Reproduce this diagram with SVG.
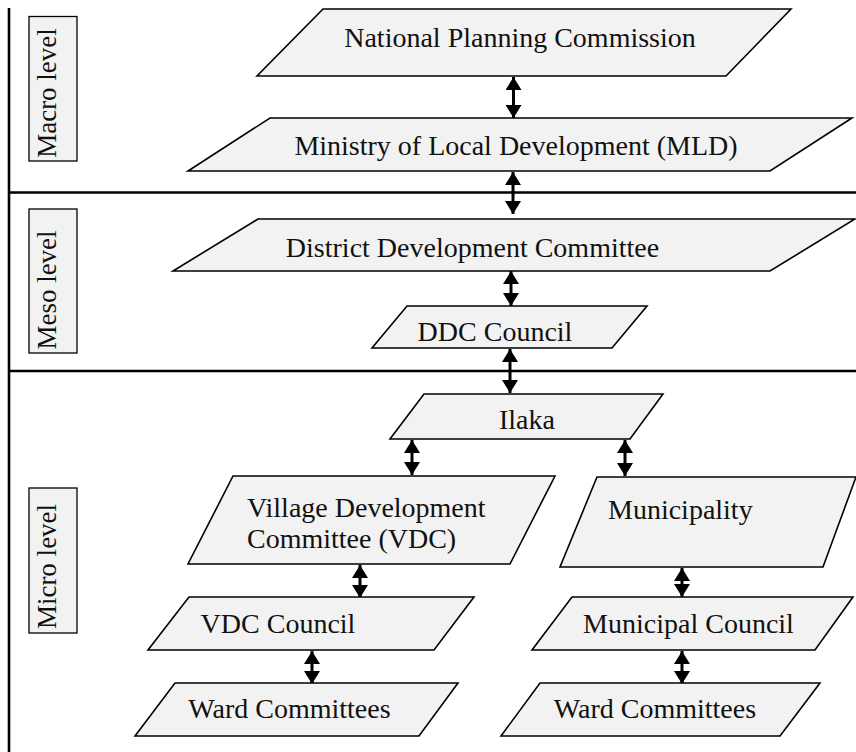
<svg xmlns="http://www.w3.org/2000/svg" width="856" height="752" viewBox="0 0 856 752">
<style>
.node{fill:#f2f2f2;stroke:#000;stroke-width:1.6;stroke-linejoin:miter}
.lbl{fill:#f2f2f2;stroke:#000;stroke-width:1.3}
.t{font-family:"Liberation Serif","Times New Roman",serif;font-size:28px;fill:#111}
.lt{font-family:"Liberation Serif","Times New Roman",serif;font-size:27px;fill:#111}
.sep{stroke:#000;stroke-width:2.6;fill:none}
.arr{stroke:#000;stroke-width:3;fill:none;marker-start:url(#ah);marker-end:url(#ah)}
</style>
<defs>
<marker id="ah" viewBox="0 0 13 16" refX="13" refY="8" markerWidth="13" markerHeight="16" markerUnits="userSpaceOnUse" orient="auto-start-reverse">
<path d="M0,0 L13,8 L0,16 z" fill="#000"/>
</marker>
</defs>
<rect width="856" height="752" fill="#fff"/>
<g id="frame">
<line class="sep" x1="9" y1="8" x2="9" y2="752"/>
<line class="sep" x1="9" y1="192.5" x2="856" y2="192.5"/>
<line class="sep" x1="9" y1="371" x2="856" y2="371"/>
</g>
<g id="label-macro">
<rect class="lbl" x="29" y="16.5" width="48" height="144.5"/>
<text class="lt" transform="translate(55.5,93) rotate(-90)" text-anchor="middle">Macro level</text>
</g>
<g id="label-meso">
<rect class="lbl" x="29" y="209" width="48" height="144"/>
<text class="lt" transform="translate(55.5,290) rotate(-90)" text-anchor="middle">Meso level</text>
</g>
<g id="label-micro">
<rect class="lbl" x="29" y="488" width="48" height="145"/>
<text class="lt" transform="translate(55.5,566.5) rotate(-90)" text-anchor="middle">Micro level</text>
</g>
<g id="connectors">
<line class="arr" x1="513.5" y1="77" x2="513.5" y2="118"/>
<line class="arr" x1="513" y1="172" x2="513" y2="214"/>
<line class="arr" x1="511" y1="271" x2="511" y2="306"/>
<line class="arr" x1="510" y1="349" x2="510" y2="393"/>
<line class="arr" x1="412" y1="440" x2="412" y2="475"/>
<line class="arr" x1="625" y1="440" x2="625" y2="476"/>
<line class="arr" x1="360" y1="565" x2="360" y2="598"/>
<line class="arr" x1="682" y1="568" x2="682" y2="597"/>
<line class="arr" x1="312" y1="651" x2="312" y2="684"/>
<line class="arr" x1="682" y1="651" x2="682" y2="684"/>
</g>
<g id="npc">
<polygon class="node" points="323,9 791,9 726,76 257,76"/>
<text class="t" x="520" y="47" text-anchor="middle">National Planning Commission</text>
</g>
<g id="mld">
<polygon class="node" points="270,118 852,118 770,171 188,171"/>
<text class="t" x="516" y="155" text-anchor="middle">Ministry of Local Development (MLD)</text>
</g>
<g id="ddc">
<polygon class="node" points="258,219 855,219 770,271 173,271"/>
<text class="t" x="472.5" y="257" text-anchor="middle">District Development Committee</text>
</g>
<g id="ddc-council">
<polygon class="node" points="407,306 647,306 612,348 372,348"/>
<text class="t" x="495" y="341" text-anchor="middle">DDC Council</text>
</g>
<g id="ilaka">
<polygon class="node" points="424,394 663,394 630,439 390,439"/>
<text class="t" x="527" y="429" text-anchor="middle">Ilaka</text>
</g>
<g id="vdc">
<polygon class="node" points="233,476 555,476 510,564 188,564"/>
<text class="t" x="247" y="517">Village Development</text>
<text class="t" x="247" y="548">Committee (VDC)</text>
</g>
<g id="municipality">
<polygon class="node" points="597,477 856,477 823,567 560,567"/>
<text class="t" x="608" y="519">Municipality</text>
</g>
<g id="vdc-council">
<polygon class="node" points="189,597 474,597 434,650 148,650"/>
<text class="t" x="278" y="633" text-anchor="middle">VDC Council</text>
</g>
<g id="municipal-council">
<polygon class="node" points="572,597 853,597 815,650 532,650"/>
<text class="t" x="688.5" y="633" text-anchor="middle">Municipal Council</text>
</g>
<g id="ward-vdc">
<polygon class="node" points="175,683 458,683 419,736 135,736"/>
<text class="t" x="289.5" y="718" text-anchor="middle">Ward Committees</text>
</g>
<g id="ward-mun">
<polygon class="node" points="540,683 820,683 780,736 501,736"/>
<text class="t" x="655" y="718" text-anchor="middle">Ward Committees</text>
</g>
</svg>
